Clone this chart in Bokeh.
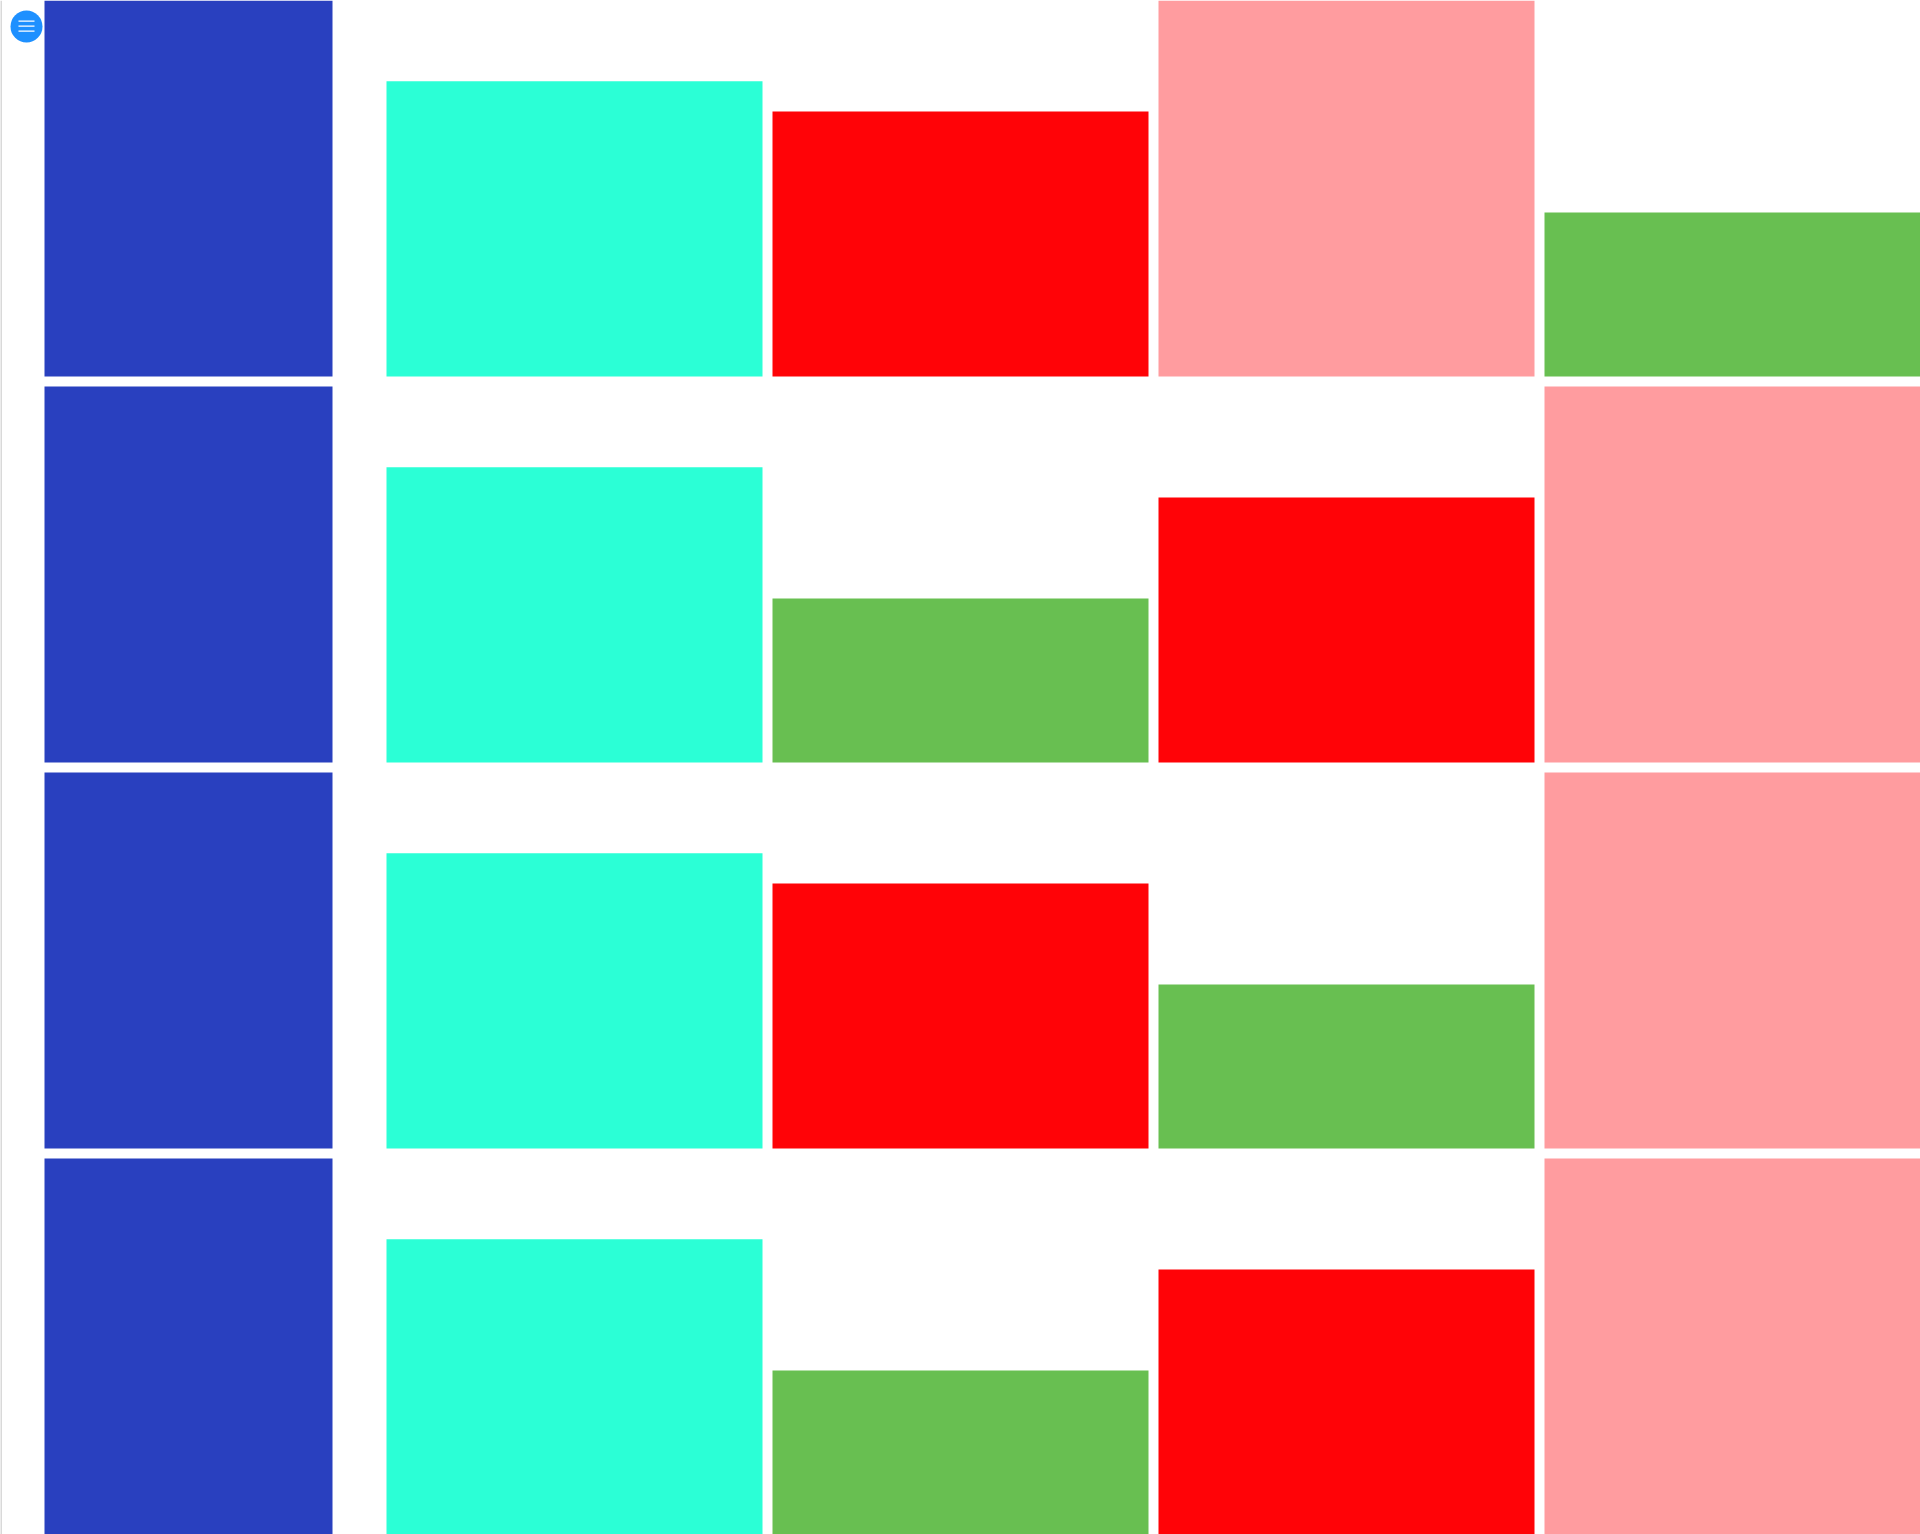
from bokeh.plotting import figure
from bokeh.models import ColumnDataSource, Range1d
from bokeh.embed import file_html
from bokeh.resources import INLINE

# ---- data ----
series = ["A", "B", "C", "D", "E"]
series_colors = {"A": "#2940BF", "B": "#2BFFD6", "C": "#FF0307", "D": "#68BF51", "E": "#FF9C9F"}
series_values = {"A": 100.0, "B": 78.5, "C": 70.5, "D": 43.6, "E": 100.0}
row_orders = [
    ["A", "B", "C", "E", "D"],
    ["A", "B", "D", "C", "E"],
    ["A", "B", "C", "D", "E"],
    ["A", "B", "D", "C", "E"],
]

# ---- layout (pixels) ----
W, H = 1920, 1534
pitch = 386.0
cell = 376.0
first_w = 288.0

n_rows = len(row_orders)
xs, tops, bottoms, widths, colors = [], [], [], [], []
for r, order in enumerate(row_orders):
    base = (n_rows - 1) - r
    for c, s in enumerate(order):
        xs.append(c + (cell / 2) / pitch)
        bottoms.append(base)
        tops.append(base + series_values[s] / 100.0 * cell / pitch)
        widths.append((first_w if c == 0 else cell) / pitch)
        colors.append(series_colors[s])

src = ColumnDataSource(dict(x=xs, top=tops, bottom=bottoms, width=widths, color=colors))

p = figure(width=W, height=H, output_backend="svg", toolbar_location=None,
           x_range=Range1d(0, W / pitch), y_range=Range1d(0, H / pitch),
           x_axis_location=None, y_axis_location=None, min_border=0,
           background_fill_color="white", border_fill_color="white")
p.outline_line_color = None
p.grid.visible = False

p.vbar(x="x", top="top", bottom="bottom", width="width", fill_color="color",
       line_color=None, source=src)

# left border line
p.segment(x0=[0.5 / pitch], y0=[0], x1=[0.5 / pitch], y1=[H / pitch],
          line_color="#CCCCCC", line_width=1.5)

# menu button
cx, cy, rad = 26 / pitch, (H - 26) / pitch, 16 / pitch
p.circle(x=[cx], y=[cy], radius=rad, fill_color="#1E90FF", line_color=None)
ly = [(H - 20.7) / pitch, (H - 25.7) / pitch, (H - 30.7) / pitch]
p.segment(x0=[18 / pitch] * 3, y0=ly, x1=[34 / pitch] * 3, y1=ly,
          line_color="white", line_width=1.2)

open("out.html", "w").write(file_html(p, INLINE))
